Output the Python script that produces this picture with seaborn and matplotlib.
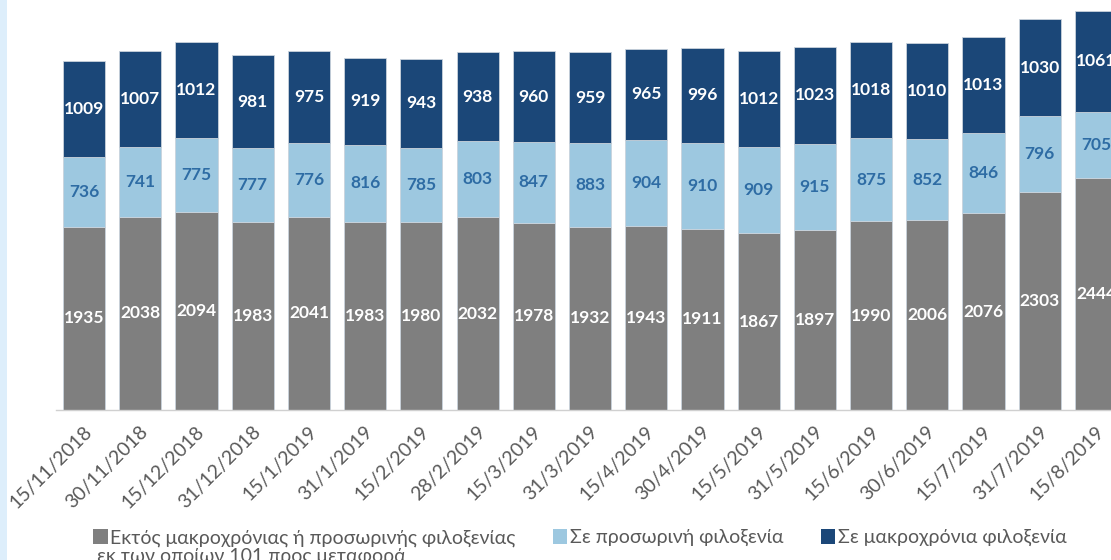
import matplotlib
matplotlib.use("Agg")
import matplotlib.pyplot as plt
import matplotlib.transforms as mtrans
import seaborn as sns
import numpy as np
import pandas as pd
from matplotlib.patches import Patch, Rectangle

dates = ["15/11/2018", "30/11/2018", "15/12/2018", "31/12/2018", "15/1/2019",
         "31/1/2019", "15/2/2019", "28/2/2019", "15/3/2019", "31/3/2019",
         "15/4/2019", "30/4/2019", "15/5/2019", "31/5/2019", "15/6/2019",
         "30/6/2019", "15/7/2019", "31/7/2019", "15/8/2019"]
outside = [1935, 2038, 2094, 1983, 2041, 1983, 1980, 2032, 1978, 1932,
           1943, 1911, 1867, 1897, 1990, 2006, 2076, 2303, 2444]
temporary = [736, 741, 775, 777, 776, 816, 785, 803, 847, 883,
             904, 910, 909, 915, 875, 852, 846, 796, 705]
longterm = [1009, 1007, 1012, 981, 975, 919, 943, 938, 960, 959,
            965, 996, 1012, 1023, 1018, 1010, 1013, 1030, 1061]
series_names = ["Εκτός μακροχρόνιας ή προσωρινής φιλοξενίας",
                "Σε προσωρινή φιλοξενία",
                "Σε μακροχρόνια φιλοξενία"]
legend_extra = "εκ των οποίων 101 προς μεταφορά"

sns.set_theme(style="white")
plt.rcParams['font.family'] = ['Lato', 'Noto Sans', 'DejaVu Sans']

c_grey = "#7f7f7f"
c_light = "#9dc8e0"
c_dark = "#1b4778"
c_lbl = "#2e6ca4"
c_txt = "#595959"

fig = plt.figure(figsize=(11.11, 5.6), dpi=100)
W, H = 1111, 560
# light strip at left edge
fig.patches.append(Rectangle((0, 0), 7 / W, 1, transform=fig.transFigure,
                             facecolor="#ddeefb", edgecolor="none", zorder=0))

ax = fig.add_axes([56 / W, 150 / H, 1068 / W, 410 / H])
ax.set_facecolor("none")

df = pd.DataFrame({"date": dates, "outside": outside,
                   "temporary": temporary, "longterm": longterm})
x = np.arange(len(dates))
bw = 0.75
bottoms = np.zeros(len(dates))
cols = ["outside", "temporary", "longterm"]
colors = [c_grey, c_light, c_dark]
lblcolors = ["white", c_lbl, "white"]
for col, colr, lc in zip(cols, colors, lblcolors):
    vals = df[col].to_numpy()
    bars = ax.bar(x, vals, bw, bottom=bottoms, color=colr,
                  edgecolor="#c9d3dc", linewidth=0.6, zorder=2)
    ax.bar_label(bars, labels=[str(v) for v in vals], label_type="center",
                 color=lc, fontsize=12.5, fontweight="bold")
    bottoms = bottoms + vals

ax.set_xlim(-0.5, len(dates) - 0.5)
ax.set_ylim(0, 410 / 0.09477)
ax.set_yticks([])
for s in ["top", "right", "left"]:
    ax.spines[s].set_visible(False)
ax.spines["bottom"].set_color("#d0d0d0")
ax.spines["bottom"].set_linewidth(1.0)

ax.set_xticks(x)
ax.set_xticklabels(dates, rotation=45, ha="right", rotation_mode="anchor",
                   fontsize=14, color=c_txt)
ax.tick_params(axis="x", which="major", length=0, pad=9)
ax.set_xticks(np.arange(-0.5, len(dates), 1.0), minor=True)
ax.tick_params(axis="x", which="minor", length=7, color="#d0d0d0", width=1.0)
offset = mtrans.ScaledTranslation(-1 / 100, 0, fig.dpi_scale_trans)
for lab in ax.get_xticklabels():
    lab.set_transform(lab.get_transform() + offset)

handles = [Patch(facecolor=c, edgecolor="none") for c in colors]
leg = fig.legend(handles, series_names, loc="center left",
                 bbox_to_anchor=(93 / W, 1 - 538 / H), ncol=3, frameon=False,
                 fontsize=14, handlelength=0.75, handleheight=0.75,
                 handletextpad=0.15, columnspacing=1.9, borderpad=0,
                 borderaxespad=0)
for t in leg.get_texts():
    t.set_color(c_txt)
fig.text(97 / W, 1 - 556 / H, legend_extra, fontsize=14, color=c_txt,
         ha="left", va="center")

fig.savefig("out.png", dpi=100)
